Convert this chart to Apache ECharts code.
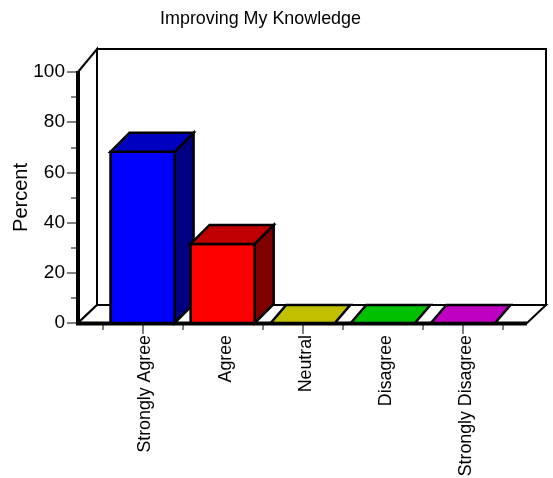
<!DOCTYPE html>
<html>
<head>
<meta charset="utf-8">
<style>html,body{margin:0;padding:0;background:#fff}#c{width:553px;height:478px}</style>
<script src="https://cdn.jsdelivr.net/npm/echarts@6/dist/echarts.min.js"></script>
</head>
<body>
<div id="c"></div>
<script>
const categories = ['Strongly Agree', 'Agree', 'Neutral', 'Disagree', 'Strongly Disagree'];
const percentValues = [68.2, 31.5, 0, 0, 0];
const titleText = 'Improving My Knowledge';
const yAxisName = 'Percent';
const frontColors = ['#0000ff', '#ff0000', '#ffff00', '#00ff00', '#ff00ff'];
const topColors = ['#0000c0', '#c00000', '#c0c000', '#00c000', '#c000c0'];
const sideColors = ['#000080', '#800000', '#808000', '#008000', '#800080'];

const GRID = {left: 102.5, right: 50, top: 72, bottom: 155, outerBoundsMode: 'none'};
const DEPTH_X = 19, DEPTH_Y = 18;
const BAR_DEPTH_Y = 19, FLAT_DEPTH_X = 15.5;
const AXIS_GAP = 24.5;
const FRONT_RIGHT = 527;
const BAR_RATIO = 0.8;
const FONT = '"Liberation Sans", Arial, sans-serif';

function poly(points, fill, lw) {
  return {type: 'polygon', shape: {points}, style: {fill, stroke: '#000', lineWidth: lw, lineJoin: 'miter'}};
}
function line(x1, y1, x2, y2, lw) {
  return {type: 'line', shape: {x1, y1, x2, y2}, style: {stroke: '#000', lineWidth: lw}};
}

function renderFrame(params, api) {
  const origin = api.coord([0, 0]);
  const top = api.coord([0, 100]);
  const band = api.size([1, 0])[0];
  const l = origin[0] - band / 2 - AXIS_GAP, b = origin[1], t = top[1], r = FRONT_RIGHT;
  const dx = DEPTH_X, dy = DEPTH_Y;
  return {type: 'group', children: [
    poly([[l + dx, t - dy - 5], [r + dx, t - dy - 5], [r + dx, b - dy], [l + dx, b - dy]], '#fff', 2),
    poly([[l, t], [l + dx, t - dy - 5], [l + dx, b - dy], [l, b]], '#fff', 2),
    poly([[l, b], [l + dx, b - dy], [r + dx, b - dy], [r, b]], '#fff', 2),
    line(l, t - 1, l, b + 2, 4),
    line(l - 2, b + 0.5, r, b + 0.5, 4)
  ]};
}

function renderBar(params, api) {
  const i = api.value(0);
  const base = api.coord([i, 0]);
  const head = api.coord([i, api.value(1)]);
  const band = api.size([1, 0])[0];
  const w = band * BAR_RATIO;
  const x0 = base[0] - w / 2, x1 = base[0] + w / 2, y0 = head[1], y1 = base[1];
  const solid = y1 - y0 > 0.5;
  const dx = solid ? DEPTH_X : FLAT_DEPTH_X;
  const dy = solid ? BAR_DEPTH_Y : DEPTH_Y;
  const children = [];
  if (solid) {
    children.push(poly([[x1, y0], [x1 + dx, y0 - dy], [x1 + dx, y1 - dy], [x1, y1]], sideColors[i], 2.5));
    children.push(poly([[x0, y0], [x1, y0], [x1, y1], [x0, y1]], frontColors[i], 2.5));
  }
  children.push(poly([[x0, y0], [x0 + dx, y0 - dy], [x1 + dx, y0 - dy], [x1, y0]], topColors[i], 2.5));
  return {type: 'group', children};
}

const chart = echarts.init(document.getElementById('c'), null, {renderer: 'canvas'});
chart.setOption({
  animation: false,
  backgroundColor: '#fff',
  title: {
    text: titleText, left: 255.5, top: 5, textAlign: 'center',
    textStyle: {fontFamily: FONT, fontSize: 17.9, fontWeight: 'normal', color: '#000'}
  },
  grid: GRID,
  xAxis: [
    {
      type: 'category', data: categories, position: 'bottom',
      axisLine: {show: false},
      axisTick: {show: true, length: 7, alignWithLabel: false, lineStyle: {color: '#808080', width: 2}},
      axisLabel: {
        rotate: 90, interval: 0, margin: 12,
        formatter: v => '{a|' + v + '}',
        rich: {a: {padding: [6, 0, 0, 0], fontFamily: FONT, fontSize: 17.8, color: '#000'}},
        fontFamily: FONT, fontSize: 17.8, color: '#000'
      }
    },
    {
      type: 'category', data: categories, position: 'bottom',
      axisLine: {show: false},
      axisTick: {show: true, length: 11, alignWithLabel: true, lineStyle: {color: '#808080', width: 2}},
      axisLabel: {show: false}
    }
  ],
  yAxis: {
    type: 'value', min: 0, max: 100, interval: 20, offset: AXIS_GAP,
    name: yAxisName, nameLocation: 'middle', nameGap: 47, nameRotate: 90, nameMoveOverlap: false,
    nameTextStyle: {fontFamily: FONT, fontSize: 20, color: '#000'},
    axisLine: {show: false},
    axisTick: {show: true, length: 11, lineStyle: {color: '#808080', width: 2}},
    minorTick: {show: true, splitNumber: 2, length: 7, lineStyle: {color: '#808080', width: 2}},
    splitLine: {show: false},
    axisLabel: {margin: 13, fontFamily: FONT, fontSize: 19, color: '#000'}
  },
  series: [
    {type: 'custom', name: 'frame', z: 1, silent: true, clip: false, renderItem: renderFrame,
     data: [[0, 0]], encode: {x: 0, y: 1}},
    {type: 'custom', name: yAxisName, z: 2, clip: false, renderItem: renderBar,
     data: percentValues.map((v, i) => [i, v]), encode: {x: 0, y: 1}}
  ]
});
</script>
</body>
</html>
